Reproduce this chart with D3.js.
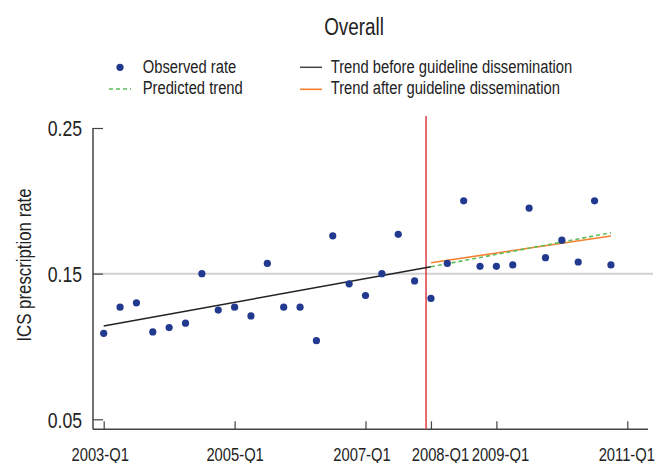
<!DOCTYPE html>
<html>
<head>
<meta charset="utf-8">
<script src="https://cdn.jsdelivr.net/npm/d3@7"></script>
<style>
  html, body { margin: 0; padding: 0; background: #fff; }
  svg text { font-family: "Liberation Sans", Arial, sans-serif; fill: #222; }
</style>
</head>
<body>
<svg id="chart" width="657" height="463"></svg>
<script>
// ---- data ----
const quarterIndex = d3.range(32); // 2003-Q1 .. 2010-Q4
const observedRate = [0.109, 0.127, 0.130, 0.110, 0.113, 0.116, 0.150, 0.125,
  0.127, 0.121, 0.157, 0.127, 0.127, 0.104, 0.176, 0.143,
  0.135, 0.150, 0.177, 0.145, 0.133, 0.157, 0.200, 0.155,
  0.155, 0.156, 0.195, 0.161, 0.173, 0.158, 0.200, 0.156];
const trendBeforeX = [0, 20];
const trendBeforeY = [0.114, 0.1547];
const predictedX = [20, 31];
const predictedY = [0.1547, 0.1781];
const trendAfterX = [20, 31];
const trendAfterY = [0.1575, 0.1758];
const guidelineIndex = 19.7;
const referenceRate = 0.15;
const xTickValues = [0, 8, 16, 20, 24, 32];
const xTickLabels = ["2003-Q1", "2005-Q1", "2007-Q1", "2008-Q1", "2009-Q1", "2011-Q1"];
const yTickValues = [0.05, 0.15, 0.25];
const yTickLabels = ["0.05", "0.15", "0.25"];
const legendLabels = ["Observed rate", "Predicted trend", "Trend before guideline dissemination", "Trend after guideline dissemination"];
const titleText = "Overall";
const yTitle = "ICS prescription rate";

// ---- layout ----
const svg = d3.select("#chart");
const axisLeftX = 93, axisBottomY = 429.3, axisRightX = 648, plotTop = 116;
const x = d3.scaleLinear().domain([0, 32]).range([103.7, 627.3]);
const y = d3.scaleLinear().domain([0.05, 0.25]).range([419.3, 128]);

const colors = { dot: "#213a8f", before: "#222", predicted: "#5cbf5c", after: "#f5802e", guide: "#dd4a4f", ref: "#d0d0d0", axis: "#444" };

// emulate a condensed typeface
function condense(sel, k = 0.82) {
  sel.each(function () {
    const w = this.getComputedTextLength();
    this.setAttribute("textLength", (w * k).toFixed(2));
    this.setAttribute("lengthAdjust", "spacingAndGlyphs");
  });
}

// reference line at 0.15
svg.append("line")
  .attr("x1", axisLeftX).attr("x2", 653)
  .attr("y1", y(referenceRate)).attr("y2", y(referenceRate))
  .attr("stroke", colors.ref).attr("stroke-width", 2);

// axes
const yAxis = d3.axisLeft(y).tickValues(yTickValues)
  .tickFormat((d, i) => yTickLabels[i]).tickSizeInner(-10).tickSizeOuter(0).tickPadding(11);
const gy = svg.append("g").attr("transform", `translate(${axisLeftX},0)`).call(yAxis);
gy.select(".domain").remove();
gy.selectAll(".tick line").attr("stroke", colors.axis).attr("stroke-width", 1.2);
gy.selectAll(".tick text").attr("font-size", 21.5).attr("dy", "0.36em").style("fill", "#222")
  .style("font-family", "'Liberation Sans', Arial, sans-serif").call(condense);
svg.append("line").attr("x1", axisLeftX).attr("x2", axisLeftX)
  .attr("y1", y(0.25)).attr("y2", axisBottomY)
  .attr("stroke", colors.axis).attr("stroke-width", 1.5);

const xLabelShift = { 0: -4, 16: -4, 20: 9, 24: 3.5, 32: -1 };
const xAxis = d3.axisBottom(x).tickValues(xTickValues)
  .tickFormat((d, i) => xTickLabels[i]).tickSizeInner(-8).tickSizeOuter(0).tickPadding(19);
const gx = svg.append("g").attr("transform", `translate(0,${axisBottomY})`).call(xAxis);
gx.select(".domain").remove();
gx.selectAll(".tick line").attr("stroke", colors.axis).attr("stroke-width", 1.2);
gx.selectAll(".tick text").attr("font-size", 18).style("fill", "#222")
  .style("font-family", "'Liberation Sans', Arial, sans-serif")
  .attr("dx", d => xLabelShift[d] || 0).call(condense);
svg.append("line").attr("x1", axisLeftX).attr("x2", axisRightX)
  .attr("y1", axisBottomY).attr("y2", axisBottomY)
  .attr("stroke", colors.axis).attr("stroke-width", 1.5);

// guideline dissemination vertical line
svg.append("line")
  .attr("x1", x(guidelineIndex)).attr("x2", x(guidelineIndex))
  .attr("y1", plotTop).attr("y2", axisBottomY)
  .attr("stroke", colors.guide).attr("stroke-width", 1.6);

// trend lines
const line = d3.line().x(d => x(d[0])).y(d => y(d[1]));
svg.append("path").datum(d3.zip(trendBeforeX, trendBeforeY)).attr("d", line)
  .attr("fill", "none").attr("stroke", colors.before).attr("stroke-width", 1.5);
svg.append("path").datum(d3.zip(trendAfterX, trendAfterY)).attr("d", line)
  .attr("fill", "none").attr("stroke", colors.after).attr("stroke-width", 1.6);
svg.append("path").datum(d3.zip(predictedX, predictedY)).attr("d", line)
  .attr("fill", "none").attr("stroke", colors.predicted).attr("stroke-width", 1.6)
  .attr("stroke-dasharray", "4,3");

// observed points
svg.append("g").selectAll("circle").data(quarterIndex).join("circle")
  .attr("cx", i => x(i)).attr("cy", i => y(observedRate[i]))
  .attr("r", 3.6).attr("fill", colors.dot);

// title
svg.append("text").attr("x", 354).attr("y", 35).attr("text-anchor", "middle")
  .attr("font-size", 23).text(titleText).call(condense);

// y-axis title
svg.append("text").attr("transform", "translate(31,265) rotate(-90)")
  .attr("text-anchor", "middle").attr("font-size", 20.5).text(yTitle).call(condense);

// legend
const lg = svg.append("g");
lg.append("circle").attr("cx", 120).attr("cy", 67.3).attr("r", 3.6).attr("fill", colors.dot);
lg.append("line").attr("x1", 109).attr("x2", 131).attr("y1", 89).attr("y2", 89)
  .attr("stroke", colors.predicted).attr("stroke-width", 1.6).attr("stroke-dasharray", "4,3");
lg.append("line").attr("x1", 300).attr("x2", 322).attr("y1", 67.3).attr("y2", 67.3)
  .attr("stroke", "#444").attr("stroke-width", 1.5);
lg.append("line").attr("x1", 300).attr("x2", 322).attr("y1", 89.3).attr("y2", 89.3)
  .attr("stroke", colors.after).attr("stroke-width", 1.6);
const legendPos = [[142.7, 72.7], [142.7, 94.3], [330.7, 72.7], [330.7, 94.3]];
lg.selectAll("text.leg").data(legendLabels).join("text").attr("class", "leg")
  .attr("x", (d, i) => legendPos[i][0]).attr("y", (d, i) => legendPos[i][1])
  .attr("font-size", 18).text(d => d).call(condense);
</script>
</body>
</html>
